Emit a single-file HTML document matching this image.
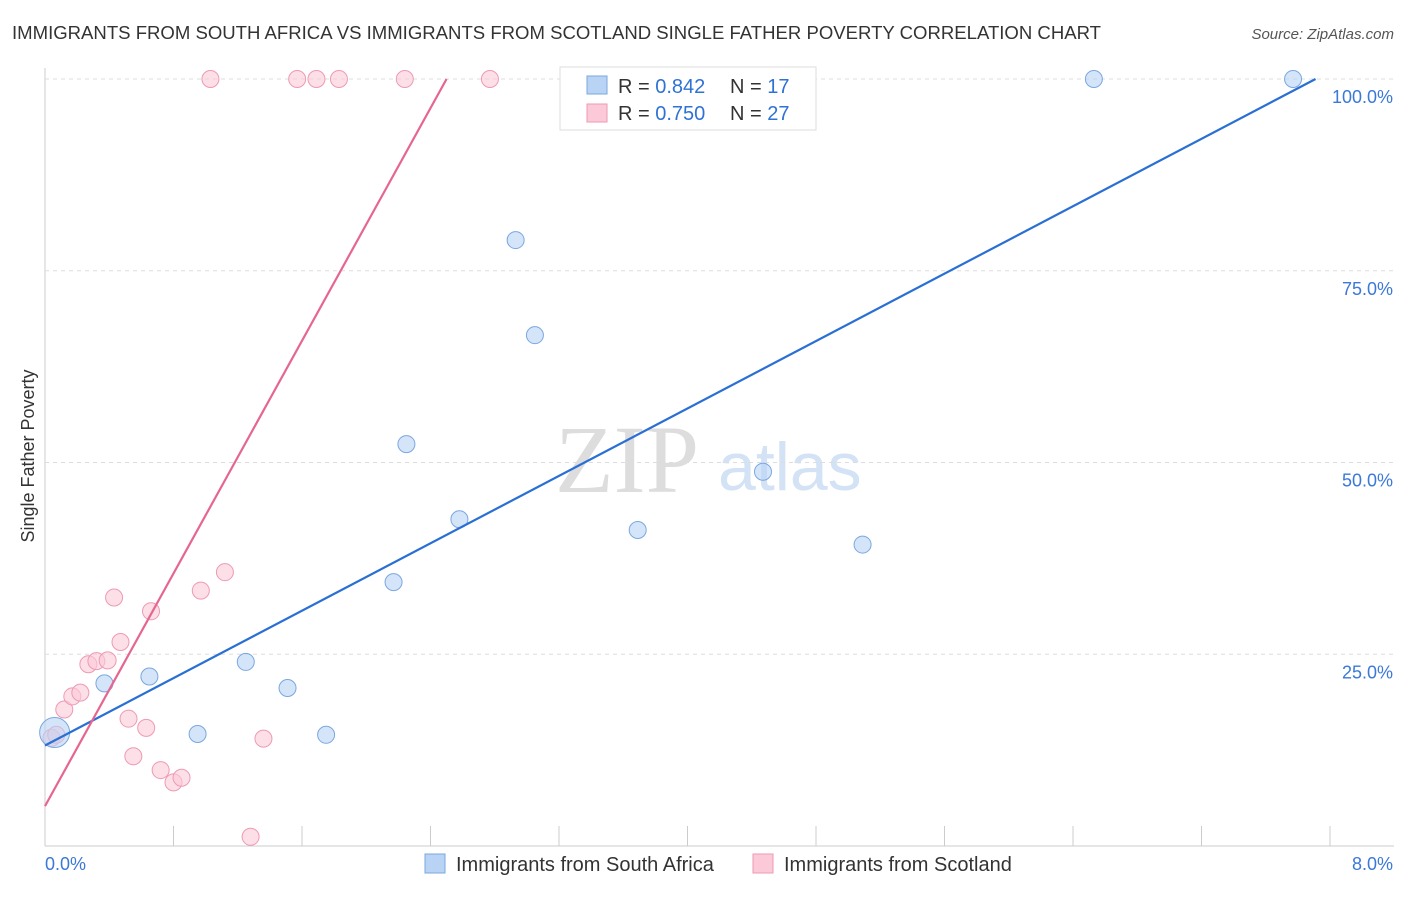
<!DOCTYPE html>
<html><head><meta charset="utf-8"><style>
body{margin:0;background:#fff;font-family:"Liberation Sans",sans-serif}
</style></head><body>
<svg width="1406" height="892" xmlns="http://www.w3.org/2000/svg" id="svg">
<text x="12" y="39" font-size="18" fill="#333" textLength="1089" lengthAdjust="spacingAndGlyphs">IMMIGRANTS FROM SOUTH AFRICA VS IMMIGRANTS FROM SCOTLAND SINGLE FATHER POVERTY CORRELATION CHART</text>
<text x="1394" y="39" font-size="15" fill="#555" font-style="italic" text-anchor="end">Source: ZipAtlas.com</text>
<text x="0" y="0" transform="translate(34,456) rotate(-90)" font-size="18" fill="#333" text-anchor="middle">Single Father Poverty</text>
<text x="555" y="492" font-size="96" fill="#ddd" font-family="Liberation Serif">ZIP</text>
<text x="718" y="490" font-size="68" fill="#d3e2f5">atlas</text>
<g id="grid"></g><g id="marks"></g>
<g>
<rect x="560" y="67" width="256" height="63" fill="#fff" stroke="#ddd"/>
<rect x="587" y="76" width="20" height="18" fill="#b9d3f5" stroke="#7aa7e0"/>
<rect x="587" y="104" width="20" height="18" fill="#fcc9d8" stroke="#ee9ab3"/>
<text x="618" y="93" font-size="20" fill="#333">R = <tspan fill="#2f72d6">0.842</tspan></text>
<text x="730" y="93" font-size="20" fill="#333">N = <tspan fill="#2f72d6">17</tspan></text>
<text x="618" y="120" font-size="20" fill="#333">R = <tspan fill="#2f72d6">0.750</tspan></text>
<text x="730" y="120" font-size="20" fill="#333">N = <tspan fill="#2f72d6">27</tspan></text>
</g>
<g>
<rect x="425" y="854" width="20" height="19" fill="#b9d3f5" stroke="#7aa7e0"/>
<text x="456" y="871" font-size="20" fill="#333">Immigrants from South Africa</text>
<rect x="753" y="854" width="20" height="19" fill="#fcc9d8" stroke="#ee9ab3"/>
<text x="784" y="871" font-size="20" fill="#333">Immigrants from Scotland</text>
</g>
</svg>
<script>
const blueX=[0.06,0.37,0.65,0.95,1.25,1.51,1.75,2.17,2.25,2.58,2.93,3.05,3.69,4.47,5.09,6.53,7.77];
const blueY=[14.8,21.2,22.1,14.6,24.0,20.6,14.5,34.4,52.4,42.6,79.0,66.6,41.2,48.8,39.3,100,100];
const pinkX=[0.04,0.07,0.12,0.17,0.22,0.27,0.32,0.39,0.43,0.47,0.52,0.55,0.63,0.66,0.72,0.80,0.85,0.97,1.12,1.28,1.36,1.03,1.57,1.69,1.83,2.24,2.77];
const pinkY=[14.1,14.5,17.8,19.5,20.0,23.7,24.1,24.2,32.4,26.6,16.6,11.7,15.4,30.6,9.9,8.3,8.9,33.3,35.7,1.2,14.0,100,100,100,100,100,100];
const yTicks=[25,50,75,100];
const xTickLabels=["0.0%","8.0%"];
const X=v=>45+v/8*1285, Y=v=>846-v/100*767;
const ns="http://www.w3.org/2000/svg";
function mk(p,t,a){const e=document.createElementNS(ns,t);for(const k in a)e.setAttribute(k,a[k]);document.getElementById(p).appendChild(e);return e;}
let e=mk("grid","line",{x1:45,x2:45,y1:68,y2:846,stroke:"#ccc"});

e=mk("grid","line",{x1:45,x2:1394,y1:846,y2:846,stroke:"#ccc"});

for(let i=1;i<=10;i++){e=mk("grid","line",{x1:X(i*0.8),x2:X(i*0.8),y1:826,y2:846,stroke:"#ccc"});
}
yTicks.forEach(v=>{e=mk("grid","line",{x1:45,x2:1394,y1:Y(v),y2:Y(v),stroke:"#ddd","stroke-dasharray":"4,4"});

e=mk("grid","text",{x:1393,y:Y(v)+24,"font-size":18,fill:"#3b78d8","text-anchor":"end"});e.textContent=v.toFixed(1)+"%";
});
e=mk("grid","text",{x:45,y:870,"font-size":18,fill:"#3b78d8"});e.textContent=xTickLabels[0];

e=mk("grid","text",{x:1393,y:870,"font-size":18,fill:"#3b78d8","text-anchor":"end"});e.textContent=xTickLabels[1];

pinkX.forEach((x,i)=>{e=mk("marks","circle",{cx:X(x),cy:Y(pinkY[i]),r:8.5,fill:"#fcc9d8","fill-opacity":0.6,stroke:"#ee9ab3"});
});
blueX.forEach((x,i)=>{e=mk("marks","circle",{cx:X(x),cy:Y(blueY[i]),r:i==0?15:8.5,fill:"#b9d3f5","fill-opacity":0.6,stroke:"#7aa7e0"});
});
e=mk("marks","line",{x1:X(0),y1:Y(13.1),x2:X(7.91),y2:Y(100),stroke:"#2a6fd4","stroke-width":2.2});

e=mk("marks","line",{x1:X(0),y1:Y(5.2),x2:X(2.5),y2:Y(100),stroke:"#e66690","stroke-width":2.2});

</script>
</body></html>
